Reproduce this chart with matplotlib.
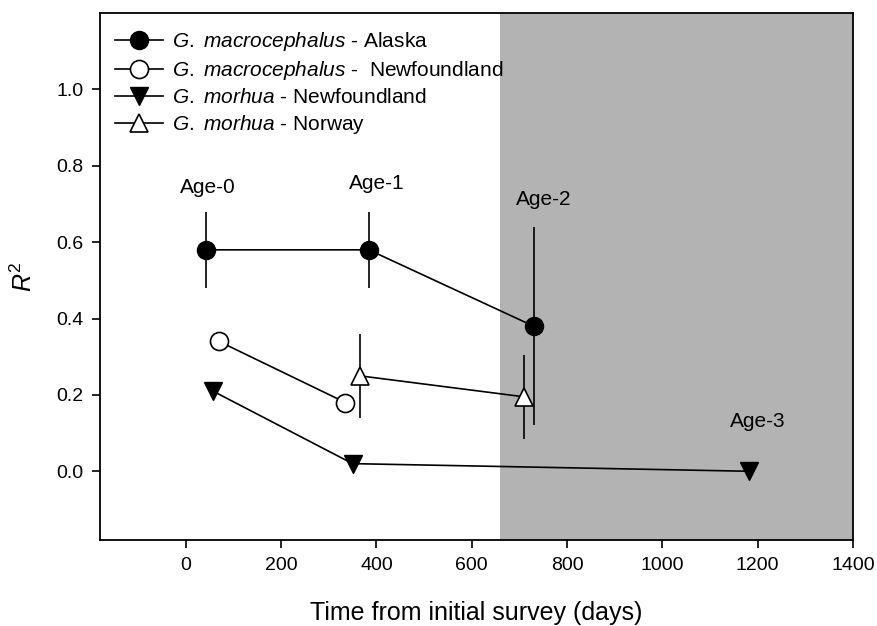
import matplotlib
matplotlib.use("Agg")
import matplotlib.pyplot as plt

plt.rcParams['font.family'] = ['Liberation Sans', 'DejaVu Sans']
plt.rcParams['mathtext.fontset'] = 'custom'
plt.rcParams['mathtext.rm'] = 'Liberation Sans'
plt.rcParams['mathtext.it'] = 'Liberation Sans:italic'

# G. macrocephalus - Alaska
alaska_x = [42, 384, 730]
alaska_y = [0.58, 0.58, 0.38]
alaska_err = [0.10, 0.10, 0.26]

# G. macrocephalus - Newfoundland
gmac_nf_x = [70, 335]
gmac_nf_y = [0.34, 0.18]

# G. morhua - Newfoundland
gmor_nf_x = [57, 350, 1182]
gmor_nf_y = [0.21, 0.02, 0.0]

# G. morhua - Norway
norway_x = [365, 710]
norway_y = [0.25, 0.195]
norway_err = [0.11, 0.11]

age_labels = ['Age-0', 'Age-1', 'Age-2', 'Age-3']
age_x = [47, 401, 750, 1201]
age_y = [0.742, 0.754, 0.713, 0.13]

shade_start = 660

fig = plt.figure(figsize=(8.78, 6.26), dpi=100)
ax = fig.add_axes([0.1139, 0.1374, 0.8576, 0.8416])

ax.axvspan(shade_start, 1400, color='#b3b3b3', lw=0, zorder=0)

lw = 1.2
ms = 13
h1 = ax.errorbar(alaska_x, alaska_y, yerr=alaska_err, color='black', lw=lw, elinewidth=lw,
                 capsize=0, marker='o', ms=ms, mfc='black', mec='black',
                 label=r'$\mathit{G.\ macrocephalus}$ - Alaska', zorder=3)
h2, = ax.plot(gmac_nf_x, gmac_nf_y, color='black', lw=lw, marker='o', ms=ms, mfc='white',
              mec='black', mew=1.2, label=r'$\mathit{G.\ macrocephalus}$ -  Newfoundland', zorder=3)
h3, = ax.plot(gmor_nf_x, gmor_nf_y, color='black', lw=lw, marker='v', ms=ms, mfc='black',
              mec='black', label=r'$\mathit{G.\ morhua}$ - Newfoundland', zorder=3)
h4 = ax.errorbar(norway_x, norway_y, yerr=norway_err, color='black', lw=lw, elinewidth=lw,
                 capsize=0, marker='^', ms=ms, mfc='white', mec='black', mew=1.2,
                 label=r'$\mathit{G.\ morhua}$ - Norway', zorder=3)

for lab, x, y in zip(age_labels, age_x, age_y):
    ax.text(x, y, lab, ha='center', va='center', fontsize=15)

ax.set_xlim(-180, 1400)
ax.set_ylim(-0.18, 1.2)
ax.set_xticks([0, 200, 400, 600, 800, 1000, 1200, 1400])
ax.set_yticks([0.0, 0.2, 0.4, 0.6, 0.8, 1.0])
ax.set_yticklabels(['0.0', '0.2', '0.4', '0.6', '0.8', '1.0'])
ax.tick_params(direction='out', length=6, width=1.2, labelsize=14, pad=6)
ax.tick_params(top=False, right=False)
for s in ax.spines.values():
    s.set_linewidth(1.3)

ax.set_xlabel('Time from initial survey (days)', fontsize=18, labelpad=20)
ax.set_ylabel(r'$\mathit{R}^2$', fontsize=18, labelpad=14)

# legend handles in the original order (errorbar containers sort last otherwise)
leg_handles = [h1[0], h2, h3, h4[0]]
leg_labels = [h1.get_label(), h2.get_label(), h3.get_label(), h4.get_label()]
ax.legend(leg_handles, leg_labels, loc='upper left', frameon=False, numpoints=1,
          fontsize=15, handlelength=2.3, handletextpad=0.45, labelspacing=0.28,
          bbox_to_anchor=(0.0, 0.995), borderaxespad=0.3)

fig.savefig('out.png', dpi=100)
